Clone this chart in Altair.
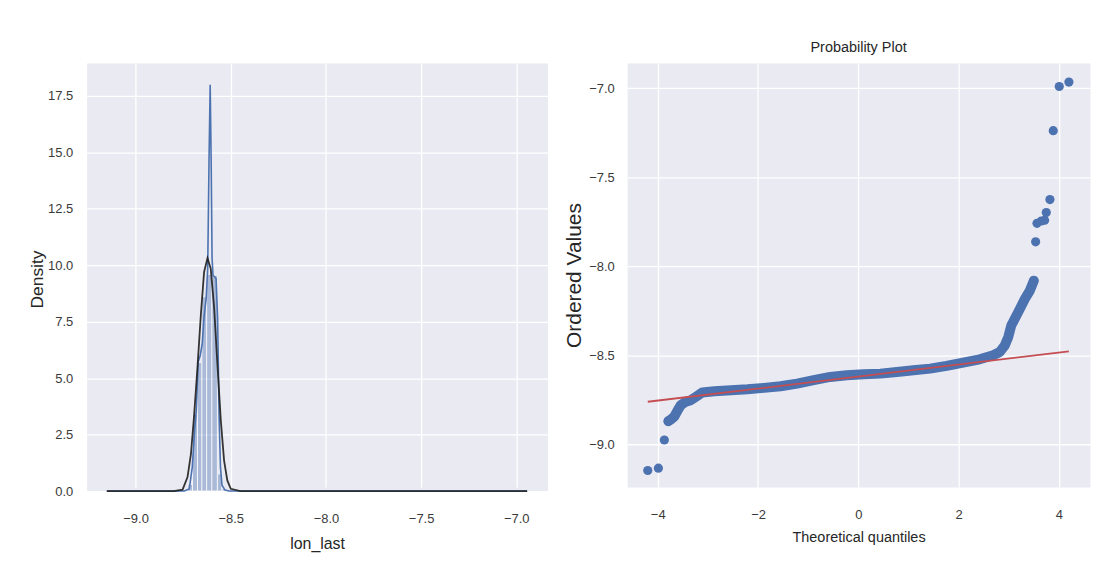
import altair as alt
import pandas as pd

# ---------------- Left panel: distribution of lon_last ----------------
hist_start = [-8.7258, -8.7008, -8.6747, -8.6517, -8.6266, -8.5995, -8.5702, -8.5473]
hist_end = [-8.7008, -8.6747, -8.6517, -8.6266, -8.5995, -8.5702, -8.5473, -8.5230]
hist_density = [0.3, 3.4, 5.7, 8.6, 9.6, 9.55, 0.76, 0.1]

kde_x = [-9.151, -8.744, -8.718, -8.702, -8.689, -8.681, -8.671, -8.661, -8.650,
         -8.640, -8.629, -8.621, -8.614, -8.608, -8.603, -8.598, -8.593, -8.585,
         -8.577, -8.569, -8.561, -8.554, -8.546, -8.530, -8.509, -6.943]
kde_y = [0.0, 0.0, 0.09, 1.06, 2.8, 3.56, 5.72, 5.98, 6.5,
         7.74, 8.53, 9.85, 14.7, 17.99, 14.7, 10.3, 9.54, 9.5,
         9.4, 7.65, 3.25, 1.06, 0.26, 0.04, 0.0, 0.0]

fit_x = [-9.151, -8.80, -8.753, -8.727, -8.709, -8.692, -8.675, -8.657, -8.640, -8.622,
         -8.605, -8.587, -8.570, -8.552, -8.535, -8.518, -8.500, -8.45, -6.943]
fit_y = [0.0, 0.0, 0.06, 0.62, 1.64, 3.4, 5.45, 7.8, 9.7, 10.32,
         9.85, 8.09, 5.6, 3.1, 1.35, 0.47, 0.1, 0.0, 0.0]

# ---------------- Right panel: probability plot ----------------
band_x = [-3.788, -3.735, -3.67, -3.60, -3.54, -3.44, -3.34, -3.21, -3.11, -2.87,
          -2.54, -2.21, -1.88, -1.55, -1.22, -0.89, -0.56, -0.23, 0.11, 0.44,
          0.77, 1.10, 1.43, 1.76, 2.09, 2.42, 2.69, 2.82, 2.92, 2.99,
          3.05, 3.12, 3.22, 3.32, 3.42, 3.50]
band_y = [-8.870, -8.860, -8.845, -8.808, -8.780, -8.761, -8.752, -8.728, -8.709, -8.702,
          -8.696, -8.691, -8.683, -8.674, -8.659, -8.640, -8.622, -8.612, -8.607, -8.603,
          -8.594, -8.584, -8.575, -8.560, -8.541, -8.523, -8.500, -8.482, -8.445, -8.398,
          -8.333, -8.295, -8.240, -8.184, -8.137, -8.081]

pts_x = [-4.199, -3.987, -3.868, -3.788, 3.536, 3.563, 3.649, 3.715, 3.748, 3.821, 3.887, 4.007, 4.199]
pts_y = [-9.147, -9.134, -8.976, -8.870, -7.863, -7.759, -7.746, -7.742, -7.699, -7.626, -7.239, -6.991, -6.966]

line_x = [-4.199, 4.199]
line_y = [-8.761, -8.478]

left_x_ticks = [-9.0, -8.5, -8.0, -7.5, -7.0]
left_y_ticks = [0.0, 2.5, 5.0, 7.5, 10.0, 12.5, 15.0, 17.5]
right_x_ticks = [-4, -2, 0, 2, 4]
right_y_ticks = [-9.0, -8.5, -8.0, -7.5, -7.0]

BLUE = "#4c72b0"
RED = "#c44e52"
FONT = "Liberation Sans, Arial, sans-serif"
TXT = "#262626"
LBL = "#3a3a3a"


def axis(values, fmt, title, title_size, label_pad, title_pad):
    return alt.Axis(
        values=values, format=fmt, title=title,
        grid=True, gridColor="white", gridWidth=1.3,
        domain=False, ticks=False, tickSize=0,
        labelFont=FONT, labelFontSize=13, labelColor=LBL, labelPadding=label_pad,
        titleFont=FONT, titleFontSize=title_size,
        titleFontWeight="normal", titleColor=TXT, titlePadding=title_pad,
    )


hist_df = pd.DataFrame({"x0": hist_start, "x1": hist_end, "d": hist_density})
kde_df = pd.DataFrame({"x": kde_x, "y": kde_y})
fit_df = pd.DataFrame({"x": fit_x, "y": fit_y})

lx = alt.Scale(domain=[-9.257, -6.836], nice=False, zero=False)
ly = alt.Scale(domain=[0, 18.78], range=[430, 4], nice=False, zero=False)
lxa = axis(left_x_ticks, ".1f", "lon_last", 16, 22, 10)
lya = axis(left_y_ticks, ".1f", "Density", 17.5, 14, 1)

hist = alt.Chart(hist_df).mark_rect(fill=BLUE, opacity=0.4, stroke="white", strokeWidth=1).encode(
    x=alt.X("x0:Q", scale=lx, axis=lxa), x2="x1:Q",
    y=alt.Y("d:Q", scale=ly, axis=lya), y2=alt.datum(0),
)
kde = alt.Chart(kde_df).mark_line(color=BLUE, strokeWidth=1.6).encode(
    x=alt.X("x:Q", scale=lx), y=alt.Y("y:Q", scale=ly), order="x:Q"
)
fit = alt.Chart(fit_df).mark_line(color="#1f1f1f", strokeWidth=1.8, opacity=0.9).encode(
    x=alt.X("x:Q", scale=lx), y=alt.Y("y:Q", scale=ly), order="x:Q"
)
left = alt.layer(hist, kde, fit).properties(width=463, height=430)

band_df = pd.DataFrame({"x": band_x, "y": band_y})
pts_df = pd.DataFrame({"x": pts_x, "y": pts_y})
line_df = pd.DataFrame({"x": line_x, "y": line_y})

rx = alt.Scale(domain=[-4.61, 4.62], nice=False, zero=False)
ry = alt.Scale(domain=[-9.24, -6.859], nice=False, zero=False)
rxa = axis(right_x_ticks, "d", "Theoretical quantiles", 14.5, 22, 9)
rya = axis(right_y_ticks, ".1f", "Ordered Values", 21, 13, 4)

band = alt.Chart(band_df).mark_line(color=BLUE, strokeWidth=10, strokeCap="round", strokeJoin="round").encode(
    x=alt.X("x:Q", scale=rx, axis=rxa), y=alt.Y("y:Q", scale=ry, axis=rya), order="x:Q"
)
pts = alt.Chart(pts_df).mark_circle(color=BLUE, opacity=1, size=85).encode(
    x=alt.X("x:Q", scale=rx), y=alt.Y("y:Q", scale=ry)
)
rline = alt.Chart(line_df).mark_line(color=RED, strokeWidth=1.8).encode(
    x=alt.X("x:Q", scale=rx), y=alt.Y("y:Q", scale=ry)
)
right = alt.layer(band, pts, rline).properties(
    width=465, height=426,
    title=alt.Title("Probability Plot", font=FONT, fontSize=14.5, fontWeight="normal",
                    color=TXT, offset=8, anchor="middle"),
)

chart = alt.hconcat(left, right, spacing=14).properties(
    padding={"left": 20, "top": 30, "right": 0, "bottom": 0},
    background="white",
).configure_view(fill="#EAEAF2", stroke="transparent")

chart.save("out.html", embed_options={"renderer": "svg", "actions": False})
